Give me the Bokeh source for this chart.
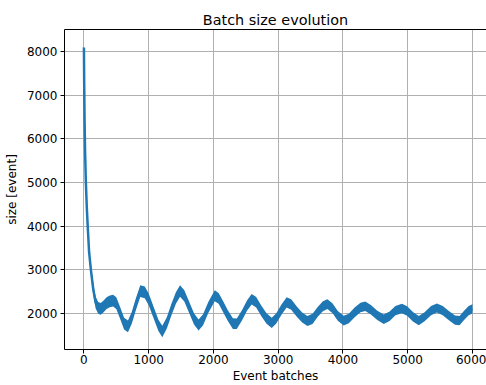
from bokeh.plotting import figure
from bokeh.models import FixedTicker, LinearAxis, Range1d, ColumnDataSource
from bokeh.embed import file_html
from bokeh.resources import INLINE

# Event batch index (x) and batch size in events (centre of the noisy trace)
batch = [0, 4, 10, 18, 30, 45, 60, 80, 108, 144, 180, 220, 260, 300, 350, 400,
         450, 500, 560, 620, 680, 740, 800, 870, 940, 1000, 1080, 1150, 1210,
         1280, 1350, 1420, 1484, 1550, 1620, 1700, 1770, 1840, 1920, 2020, 2080,
         2150, 2220, 2300, 2360, 2440, 2520, 2590, 2660, 2740, 2820, 2900, 2970,
         3050, 3130, 3200, 3290, 3370, 3450, 3530, 3610, 3690, 3760, 3840, 3920,
         4010, 4090, 4180, 4270, 4345, 4430, 4530, 4630, 4720, 4810, 4910, 4990,
         5080, 5170, 5260, 5360, 5450, 5540, 5640, 5730, 5800, 5870, 5940, 5999]
size = [8100, 7300, 6400, 5700, 5000, 4400, 3950, 3400, 2990, 2550, 2250, 2120,
        2100, 2150, 2230, 2270, 2290, 2230, 2000, 1760, 1700, 1900, 2200, 2510,
        2480, 2320, 2000, 1720, 1580, 1780, 2080, 2350, 2510, 2400, 2150, 1870,
        1730, 1850, 2130, 2400, 2340, 2150, 1950, 1760, 1760, 1950, 2180, 2320,
        2250, 2050, 1880, 1780, 1880, 2080, 2250, 2200, 2030, 1900, 1820, 1870,
        2030, 2160, 2210, 2110, 1940, 1830, 1880, 2020, 2130, 2160, 2080, 1950,
        1860, 1930, 2060, 2110, 2050, 1920, 1830, 1920, 2060, 2120, 2060, 1940,
        1840, 1830, 1950, 2060, 2100]
# half-width of the noise band around the trace
spread = [70, 70, 70, 70, 75, 80, 90, 100, 115, 125, 135, 135, 135, 135, 135,
          135, 135, 135, 135, 135, 135, 135, 135, 135, 135, 135, 130, 130, 130,
          130, 130, 130, 130, 130, 130, 130, 125, 125, 125, 125, 125, 125, 125,
          125, 120, 120, 120, 120, 120, 120, 120, 118, 118, 118, 118, 118, 118,
          115, 115, 115, 112, 112, 112, 112, 112, 112, 110, 110, 110, 108, 108,
          108, 108, 108, 108, 108, 108, 108, 105, 105, 105, 105, 105, 105, 105,
          105, 105, 105, 105]

x_ticks = [0, 1000, 2000, 3000, 4000, 5000, 6000]
y_ticks = [2000, 3000, 4000, 5000, 6000, 7000, 8000]

lower = [s - d for s, d in zip(size, spread)]
upper = [s + d for s, d in zip(size, spread)]
src = ColumnDataSource(dict(x=batch, y=size, lo=lower, hi=upper))

FONT = "DejaVu Sans"
BLUE = "#1f77b4"

p = figure(width=486, height=385, x_range=Range1d(-300, 6216),
           y_range=Range1d(1167, 8514), output_backend="svg",
           toolbar_location=None, title="Batch size evolution",
           min_border_left=64, min_border_right=0, min_border_top=29,
           min_border_bottom=36)
p.outline_line_color = None
p.background_fill_color = "white"
p.border_fill_color = "white"

p.title.align = "center"
p.title.text_font = FONT
p.title.text_font_size = "14.4px"
p.title.text_font_style = "normal"
p.title.text_color = "black"
p.title.standoff = 4
p.title.offset = 3

for ax in (p.xaxis[0], p.yaxis[0]):
    ax.major_label_text_font = FONT
    ax.major_label_text_font_size = "12px"
    ax.major_label_text_color = "black"
    ax.axis_label_text_font = FONT
    ax.axis_label_text_font_size = "12px"
    ax.axis_label_text_font_style = "normal"
    ax.axis_label_text_color = "black"
    ax.major_tick_out = 4
    ax.major_tick_in = 0
    ax.minor_tick_out = 0
    ax.minor_tick_in = 0
    ax.axis_line_color = "black"
    ax.axis_line_width = 1
    ax.major_tick_line_color = "black"
    ax.major_label_standoff = 3
    ax.axis_label_standoff = 3

p.xaxis[0].ticker = FixedTicker(ticks=x_ticks)
p.yaxis[0].ticker = FixedTicker(ticks=y_ticks)
p.xaxis[0].axis_label = "Event batches"
p.yaxis[0].axis_label = "size [event]"
p.xaxis[0].major_label_standoff = 1
p.xaxis[0].axis_label_standoff = 2
p.yaxis[0].axis_label_standoff = 5

top = LinearAxis(ticker=FixedTicker(ticks=[]), major_label_text_font_size="0px",
                 major_tick_out=0, major_tick_in=0, minor_tick_out=0,
                 minor_tick_in=0, axis_line_color="black", axis_line_width=1,
                 major_label_standoff=0)
p.add_layout(top, "above")

for g in (p.xgrid[0], p.ygrid[0]):
    g.grid_line_color = "#b0b0b0"
    g.grid_line_width = 1
p.xgrid[0].ticker = FixedTicker(ticks=x_ticks)
p.ygrid[0].ticker = FixedTicker(ticks=y_ticks)

p.varea(x="x", y1="lo", y2="hi", source=src, fill_color=BLUE, fill_alpha=1)
p.line(x="x", y="y", source=src, line_color=BLUE, line_width=2.5)

open("out.html", "w").write(file_html(p, INLINE))
